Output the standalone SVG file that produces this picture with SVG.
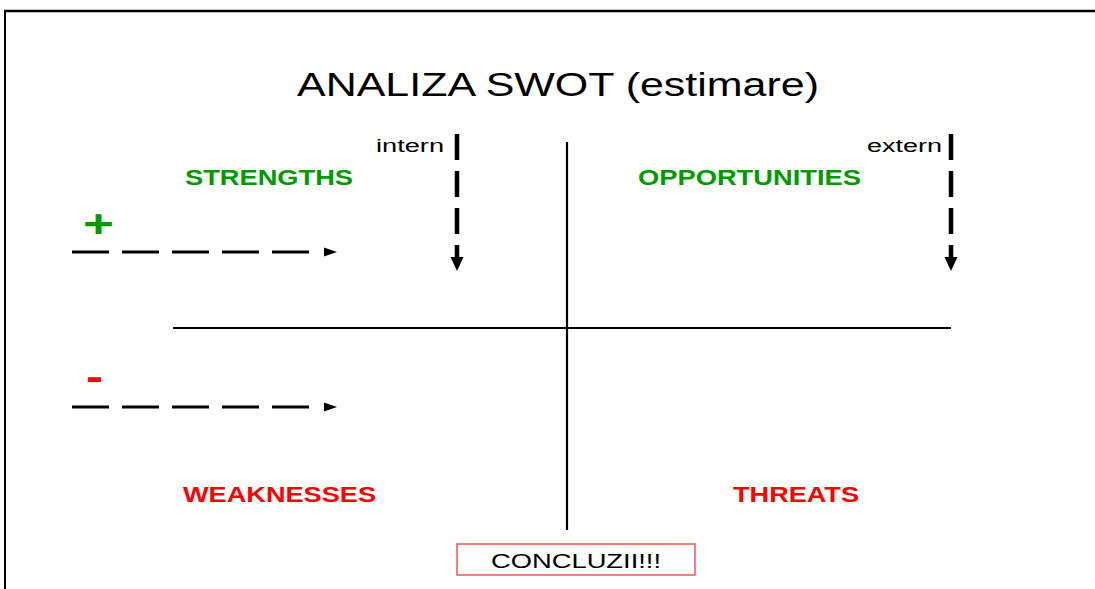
<svg xmlns="http://www.w3.org/2000/svg" width="1095" height="589" viewBox="0 0 1095 589">
<style>
text{font-family:"Liberation Sans",Arial,sans-serif}
.t{font-size:33px;fill:#000}
.g{font-size:22px;font-weight:bold;fill:#009a00}
.r{font-size:22px;font-weight:bold;fill:#ff0000}
.s{font-size:18px;fill:#000}
.ax{stroke:#000;stroke-width:2.2;fill:none}
.dh{stroke:#000;stroke-width:3;stroke-dasharray:37 13;fill:none}
.dv{stroke:#000;stroke-width:4.5;stroke-dasharray:26 11;fill:none}
</style>
<rect width="1095" height="589" fill="#fff"/>
<g id="frame">
<line x1="4" y1="11" x2="1095" y2="11" stroke="#000" stroke-width="2.5"/>
<line x1="5" y1="10" x2="5" y2="589" stroke="#000" stroke-width="2"/>
</g>
<g id="title"><text class="t" x="297" y="96" textLength="522" lengthAdjust="spacingAndGlyphs">ANALIZA SWOT (estimare)</text></g>
<g id="connectors">
<line class="ax" x1="567" y1="142" x2="567" y2="530"/>
<line class="ax" x1="173" y1="328" x2="951" y2="328"/>
<line class="dh" x1="72" y1="252" x2="310" y2="252"/>
<polygon points="324,247.5 337,252 324,256.5"/>
<line class="dh" x1="72" y1="407" x2="310" y2="407"/>
<polygon points="324,402.5 337,407 324,411.5"/>
<line class="dv" x1="457" y1="134" x2="457" y2="260"/>
<polygon points="450.5,257 463.5,257 457,271"/>
<line class="dv" x1="951" y1="134" x2="951" y2="260"/>
<polygon points="944.5,257 957.5,257 951,271"/>
</g>
<g id="plus"><text x="83" y="237" textLength="31" lengthAdjust="spacingAndGlyphs" style="font-size:38px;font-weight:bold;fill:#009a00">+</text></g>
<g id="minus"><text x="86" y="390" textLength="17" lengthAdjust="spacingAndGlyphs" style="font-size:38px;font-weight:bold;fill:#ff0000">-</text></g>
<g id="intern"><text class="s" x="376" y="152" textLength="68" lengthAdjust="spacingAndGlyphs">intern</text></g>
<g id="extern"><text class="s" x="867" y="152" textLength="75" lengthAdjust="spacingAndGlyphs">extern</text></g>
<g id="strengths"><text class="g" x="185" y="185" textLength="168" lengthAdjust="spacingAndGlyphs">STRENGTHS</text></g>
<g id="opportunities"><text class="g" x="638" y="185" textLength="223" lengthAdjust="spacingAndGlyphs">OPPORTUNITIES</text></g>
<g id="weaknesses"><text class="r" x="183" y="502" textLength="193" lengthAdjust="spacingAndGlyphs">WEAKNESSES</text></g>
<g id="threats"><text class="r" x="733" y="502" textLength="126" lengthAdjust="spacingAndGlyphs">THREATS</text></g>
<g id="concluzii">
<rect x="457" y="544" width="238" height="31" fill="#fff" stroke="#f05555" stroke-width="1.5"/>
<text x="491" y="568" style="font-size:19.5px" textLength="170" lengthAdjust="spacingAndGlyphs">CONCLUZII!!!</text>
</g>
</svg>
